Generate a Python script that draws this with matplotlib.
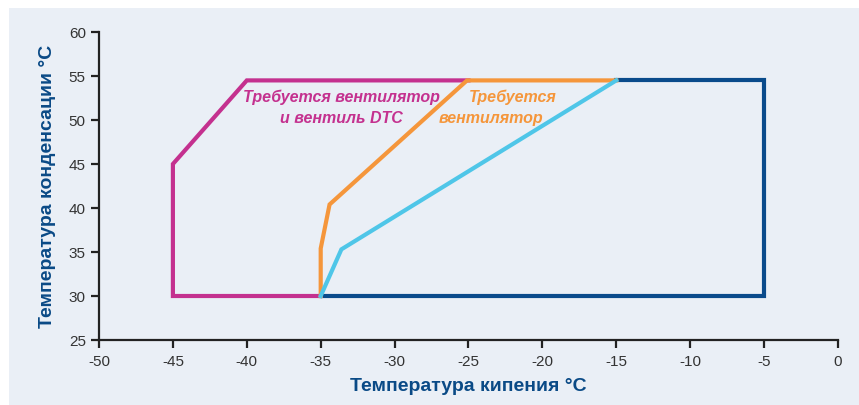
import matplotlib.pyplot as plt
from matplotlib.patches import Rectangle

# outline of the operating envelope (evaporating temp, condensing temp)
blue_x = [-35, -5, -5, -15]
blue_y = [30, 30, 54.5, 54.5]
magenta_x = [-35, -45, -45, -40, -25]
magenta_y = [30, 30, 45, 54.5, 54.5]
orange_x = [-35, -35, -34.4, -25.1, -15]
orange_y = [30, 35.4, 40.4, 54.5, 54.5]
cyan_x = [-35, -33.6, -15]
cyan_y = [30, 35.3, 54.5]

xticks = [-50, -45, -40, -35, -30, -25, -20, -15, -10, -5, 0]
yticks = [25, 30, 35, 40, 45, 50, 55, 60]

bg = '#eaeff6'
c_blue = '#0a4b8b'
c_magenta = '#c4318f'
c_orange = '#f5963b'
c_cyan = '#4fc6e8'
c_label = '#0a4a86'

plt.rcParams['font.family'] = ['Liberation Sans', 'DejaVu Sans']
plt.rcParams['axes.unicode_minus'] = False

fig = plt.figure(figsize=(8.59, 4.05), dpi=100, facecolor='white')
fig.patches.append(Rectangle((9 / 859, 0), 1, (405 - 8) / 405,
                             transform=fig.transFigure, facecolor=bg,
                             edgecolor='none', zorder=-10))
ax = fig.add_axes([99 / 859, 65 / 405, 739 / 859, 308 / 405])
ax.set_facecolor('none')

ax.plot(blue_x, blue_y, color=c_blue, lw=3, solid_joinstyle='miter', zorder=2)
ax.plot(magenta_x, magenta_y, color=c_magenta, lw=3, solid_joinstyle='miter', zorder=3)
ax.plot(orange_x, orange_y, color=c_orange, lw=3, solid_joinstyle='miter', zorder=4)
ax.plot(cyan_x, cyan_y, color=c_cyan, lw=3, solid_joinstyle='miter', zorder=5)

ax.set_xlim(-50, 0)
ax.set_ylim(25, 60)
ax.set_xticks(xticks)
ax.set_yticks(yticks)
for s in ['top', 'right']:
    ax.spines[s].set_visible(False)
for s in ['left', 'bottom']:
    ax.spines[s].set_color('#222222')
    ax.spines[s].set_linewidth(1.6)
ax.tick_params(direction='out', length=6, width=1.6, color='#222222',
               labelsize=11, labelcolor='#333333')
ax.tick_params(axis='x', pad=5)

ax.set_xlabel('Температура кипения °C', fontsize=14, fontweight='bold',
              color=c_label, labelpad=6)
ax.set_ylabel('Температура конденсации °C', fontsize=14, fontweight='bold',
              color=c_label, labelpad=9)

kw = dict(fontsize=11.5, fontweight='bold', style='italic', ha='center',
          va='center')
ax.text(-33.6, 52.6, 'Требуется вентилятор', color=c_magenta, **kw)
ax.text(-33.6, 50.2, 'и вентиль DTC', color=c_magenta, **kw)
ax.text(-22.0, 52.6, 'Требуется', color=c_orange, **kw)
ax.text(-23.5, 50.2, 'вентилятор', color=c_orange, **kw)

fig.savefig('out.png', dpi=100, facecolor='white')
